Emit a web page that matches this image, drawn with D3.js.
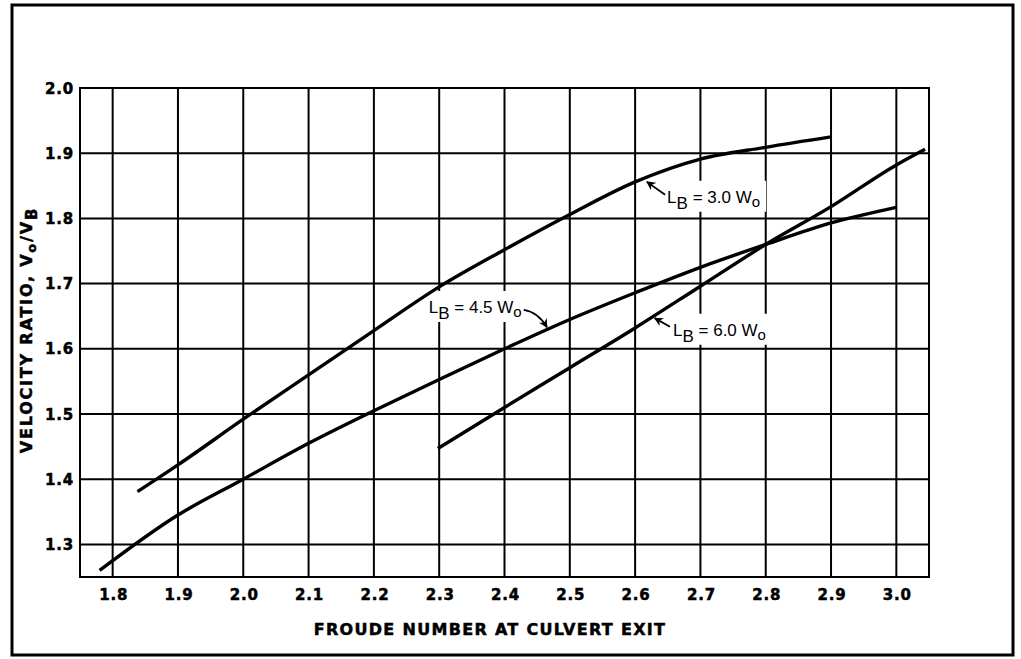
<!DOCTYPE html>
<html><head><meta charset="utf-8">
<script src="https://cdn.jsdelivr.net/npm/d3@7"></script>
<style>body{margin:0;background:#fff;}</style>
</head><body>
<svg id="chart" width="1021" height="659"></svg>
<script>
// ---- data ----
const xTickValues = [1.8, 1.9, 2.0, 2.1, 2.2, 2.3, 2.4, 2.5, 2.6, 2.7, 2.8, 2.9, 3.0];
const xTickLabels = ["1.8","1.9","2.0","2.1","2.2","2.3","2.4","2.5","2.6","2.7","2.8","2.9","3.0"];
const yTickValues = [1.3, 1.4, 1.5, 1.6, 1.7, 1.8, 1.9, 2.0];
const yTickLabels = ["1.3","1.4","1.5","1.6","1.7","1.8","1.9","2.0"];

const lb30X = [1.838, 1.9, 2.0, 2.1, 2.2, 2.3, 2.4, 2.5, 2.6, 2.7, 2.8, 2.9];
const lb30Y = [1.381, 1.422, 1.492, 1.560, 1.628, 1.695, 1.752, 1.806, 1.856, 1.891, 1.909, 1.925];
const lb45X = [1.78, 1.9, 2.0, 2.1, 2.2, 2.3, 2.4, 2.5, 2.6, 2.7, 2.8, 2.9, 3.0];
const lb45Y = [1.26, 1.345, 1.40, 1.455, 1.505, 1.553, 1.60, 1.645, 1.686, 1.725, 1.76, 1.793, 1.817];
const lb60X = [2.298, 2.4, 2.5, 2.6, 2.7, 2.8, 2.9, 3.0, 3.044];
const lb60Y = [1.447, 1.51, 1.571, 1.632, 1.696, 1.76, 1.818, 1.882, 1.906];

const seriesNames = ["3.0", "4.5", "6.0"];
// label anchors (data coords): text start x, baseline y
const labelX = [2.649, 2.284, 2.658];
const labelY = [1.824, 1.655, 1.620];
// arrow tips (data coords)
const arrowTipX = [2.618, 2.465, 2.630];
const arrowTipY = [1.856, 1.633, 1.647];

// ---- drawing ----
const svg = d3.select("#chart");
const x = d3.scaleLinear().domain([1.75, 3.05]).range([80, 929]);
const y = d3.scaleLinear().domain([1.25, 2.0]).range([577, 88]);

svg.append("rect").attr("x", 12).attr("y", 5).attr("width", 1001).attr("height", 650)
  .attr("fill", "#fff").attr("stroke", "#000").attr("stroke-width", 3);

const defs = svg.append("defs");
defs.append("marker").attr("id", "ah").attr("viewBox", "0 0 10 10")
  .attr("refX", 9).attr("refY", 5).attr("markerWidth", 10).attr("markerHeight", 9)
  .attr("markerUnits", "userSpaceOnUse").attr("orient", "auto")
  .append("path").attr("d", "M0,0 L10,5 L0,10 L3,5 Z").attr("fill", "#000");

const grid = svg.append("g").attr("stroke", "#000").attr("stroke-width", 2);
grid.selectAll("line.v").data(xTickValues).join("line").attr("class", "v")
  .attr("x1", d => x(d)).attr("x2", d => x(d)).attr("y1", y(1.25)).attr("y2", y(2.0));
grid.selectAll("line.h").data(yTickValues).join("line").attr("class", "h")
  .attr("x1", x(1.75)).attr("x2", x(3.05)).attr("y1", d => y(d)).attr("y2", d => y(d));
grid.append("rect").attr("x", x(1.75)).attr("y", y(2.0))
  .attr("width", x(3.05) - x(1.75)).attr("height", y(1.25) - y(2.0)).attr("fill", "none");

// white label backgrounds (interrupt grid)
const boxW = 104, boxH = 31;
svg.selectAll("rect.lbg").data(seriesNames).join("rect").attr("class", "lbg")
  .attr("x", (d, i) => x(labelX[i]) - 5).attr("y", (d, i) => y(labelY[i]) - 22)
  .attr("width", boxW).attr("height", boxH).attr("fill", "#fff");

// curves
const line = d3.line().curve(d3.curveMonotoneX).x(d => x(d[0])).y(d => y(d[1]));
const series = [d3.zip(lb30X, lb30Y), d3.zip(lb45X, lb45Y), d3.zip(lb60X, lb60Y)];
svg.selectAll("path.curve").data(series).join("path").attr("class", "curve")
  .attr("d", line).attr("fill", "none").attr("stroke", "#000")
  .attr("stroke-width", 3.4).attr("stroke-linecap", "butt");

// labels
const lab = svg.selectAll("text.lab").data(seriesNames).join("text").attr("class", "lab")
  .attr("x", (d, i) => x(labelX[i])).attr("y", (d, i) => y(labelY[i]))
  .attr("font-family", "'Liberation Sans', Arial, sans-serif").attr("font-size", 17).attr("fill", "#000");
lab.append("tspan").text("L");
lab.append("tspan").attr("dy", 6).attr("font-size", 17).text("B");
lab.append("tspan").attr("dy", -6).text(d => " = " + d + " W");
lab.append("tspan").attr("dy", 4).attr("font-size", 15).text("o");

// arrows
const arrowPaths = [
  `M${x(labelX[0]) - 2},${y(labelY[0]) - 8} L${x(arrowTipX[0])},${y(arrowTipY[0])}`,
  `M${x(labelX[1]) + 95},${y(labelY[1]) - 3} Q${x(labelX[1]) + 109},${y(labelY[1]) - 1} ${x(arrowTipX[1])},${y(arrowTipY[1])}`,
  `M${x(labelX[2]) - 3},${y(labelY[2]) - 9} L${x(arrowTipX[2])},${y(arrowTipY[2])}`
];
svg.selectAll("path.arr").data(arrowPaths).join("path").attr("class", "arr")
  .attr("d", d => d).attr("fill", "none").attr("stroke", "#000").attr("stroke-width", 1.8)
  .attr("marker-end", "url(#ah)");

// tick labels
const tickFont = "'DejaVu Sans', sans-serif";
svg.selectAll("text.xt").data(xTickValues).join("text").attr("class", "xt")
  .attr("x", d => x(d) + 1).attr("y", 600).attr("text-anchor", "middle")
  .attr("font-family", tickFont).attr("font-weight", "bold").attr("font-size", 15)
  .attr("stroke", "#000").attr("stroke-width", 0.5)
  .attr("letter-spacing", 0.8).text((d, i) => xTickLabels[i]);
svg.selectAll("text.yt").data(yTickValues).join("text").attr("class", "yt")
  .attr("x", 74).attr("y", d => y(d) + 5.5).attr("text-anchor", "end")
  .attr("font-family", tickFont).attr("font-weight", "bold").attr("font-size", 15)
  .attr("stroke", "#000").attr("stroke-width", 0.5)
  .attr("letter-spacing", 0.8).text((d, i) => yTickLabels[i]);

// axis titles
svg.append("text").attr("x", 490).attr("y", 635).attr("text-anchor", "middle")
  .attr("font-family", tickFont).attr("font-weight", "bold").attr("font-size", 16)
  .attr("stroke", "#000").attr("stroke-width", 0.5)
  .attr("letter-spacing", 1.3).text("FROUDE NUMBER AT CULVERT EXIT");

const yt = svg.append("text").attr("transform", "translate(32,330) rotate(-90)")
  .attr("text-anchor", "middle").attr("font-family", tickFont).attr("font-weight", "bold")
  .attr("stroke", "#000").attr("stroke-width", 0.5)
  .attr("font-size", 16).attr("letter-spacing", 1.8);
yt.append("tspan").text("VELOCITY RATIO, V");
yt.append("tspan").attr("dy", 4).attr("font-size", 13).text("o");
yt.append("tspan").attr("dy", -4).text("/V");
yt.append("tspan").attr("dy", 5).attr("font-size", 15).text("B");
</script>
</body></html>
